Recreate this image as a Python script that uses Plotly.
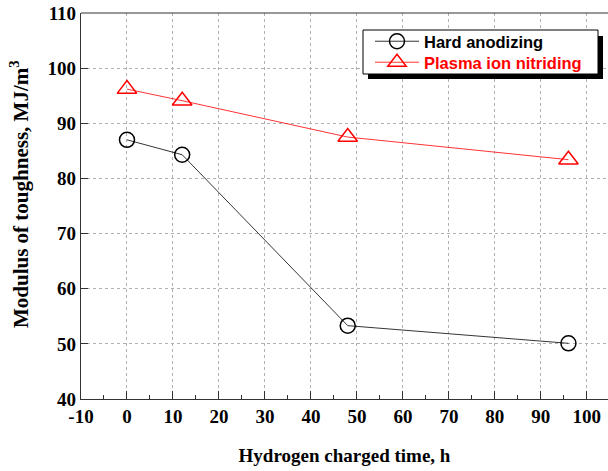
import plotly.graph_objects as go

hours = [0, 12, 48, 96]
hard_anodizing = [87.0, 84.3, 53.3, 50.1]
plasma_nitriding = [96.2, 94.1, 87.5, 83.4]
x_ticks = [-10, 0, 10, 20, 30, 40, 50, 60, 70, 80, 90, 100]
x_tick_text = ["-10", "0", "10", "20", "30", "40", "50", "60", "70", "80", "90", "100"]
y_ticks = [40, 50, 60, 70, 80, 90, 100, 110]

W, H = 608, 471
ml, mr, mt, mb = 81, 0, 13, 72
pw, ph = W - ml - mr, H - mt - mb

fig = go.Figure()
fig.add_trace(go.Scatter(
    x=hours, y=hard_anodizing, name="Hard anodizing", mode="lines+markers",
    line=dict(color="black", width=0.8), legend="legend",
    marker=dict(symbol="circle-open", size=15, color="black", line=dict(width=1.5)),
))
fig.add_trace(go.Scatter(
    x=hours, y=plasma_nitriding, name="<span style='color:red'>Plasma ion nitriding</span>",
    mode="lines+markers", legend="legend2",
    line=dict(color="red", width=0.8),
    marker=dict(symbol="triangle-up-open", size=17, color="red", line=dict(width=1.5)),
))

def px2paper(px, py):
    return (px - ml) / pw, (H - mb - py) / ph

# legend shadow and box
sx0, sy0 = px2paper(368, 79)
sx1, sy1 = px2paper(603, 36)
fig.add_shape(type="rect", xref="paper", yref="paper", x0=sx0, y0=sy0, x1=sx1, y1=sy1,
              fillcolor="black", line=dict(width=0), layer="above")
bx0, by0 = px2paper(363, 74)
bx1, by1 = px2paper(598, 30)
fig.add_shape(type="rect", xref="paper", yref="paper", x0=bx0, y0=by0, x1=bx1, y1=by1,
              fillcolor="white", line=dict(color="black", width=1), layer="above")
# top border
fig.add_shape(type="line", xref="paper", yref="paper", x0=0, x1=1, y0=1, y1=1,
              line=dict(color="#333", width=1.2))

# y-axis title as annotation
tx, ty = px2paper(19, 194)
fig.add_annotation(text="Modulus of toughness, MJ/m<sup>3</sup>", xref="paper", yref="paper",
                   x=tx, y=ty, xanchor="center", yanchor="middle", textangle=-90,
                   showarrow=False,
                   font=dict(family="Liberation Serif", size=21, color="black", weight="bold"))

legend_style = dict(xanchor="left", yanchor="top",
                    bgcolor="rgba(0,0,0,0)", borderwidth=0,
                    font=dict(family="Liberation Sans", size=16.5, color="black", weight="bold"),
                    tracegroupgap=0, itemsizing="trace", itemwidth=44)
l1x, l1y = px2paper(370, 24)
l2x, l2y = px2paper(370, 45)

fig.update_layout(
    width=W, height=H,
    margin=dict(l=ml, r=mr, t=mt, b=mb, autoexpand=False),
    plot_bgcolor="white", paper_bgcolor="white",
    showlegend=True,
    legend=dict(x=l1x, y=l1y, **legend_style),
    legend2=dict(x=l2x, y=l2y, **legend_style),
    xaxis=dict(
        range=[-10, 104.6], tickvals=x_ticks, ticktext=x_tick_text, automargin=False,
        ticks="inside", ticklen=8, tickwidth=1, tickcolor="#333",
        minor=dict(dtick=5, ticks="inside", ticklen=4, tickwidth=1, tickcolor="#333", showgrid=False),
        showgrid=True, gridcolor="#b0b0b0", griddash="dot", gridwidth=1,
        showline=True, linecolor="#333", linewidth=1.2, mirror=False,
        zeroline=False, ticklabeloverflow="allow",
        tickfont=dict(family="Liberation Serif", size=19, color="black", weight="bold"),
        title=dict(text="Hydrogen charged time, h", standoff=22,
                   font=dict(family="Liberation Serif", size=19, color="black", weight="bold")),
    ),
    yaxis=dict(
        range=[40, 110], tickvals=y_ticks, automargin=False,
        ticks="inside", ticklen=7, tickwidth=1, tickcolor="#333",
        showgrid=True, gridcolor="#b0b0b0", griddash="dot", gridwidth=1,
        showline=True, linecolor="#333", linewidth=1.2, mirror=False,
        zeroline=False, ticklabeloverflow="allow",
        tickfont=dict(family="Liberation Serif", size=19, color="black", weight="bold"),
    ),
)

fig.write_html("out.html", config={"displayModeBar": False},
               post_script="document.body.style.margin='0';")
